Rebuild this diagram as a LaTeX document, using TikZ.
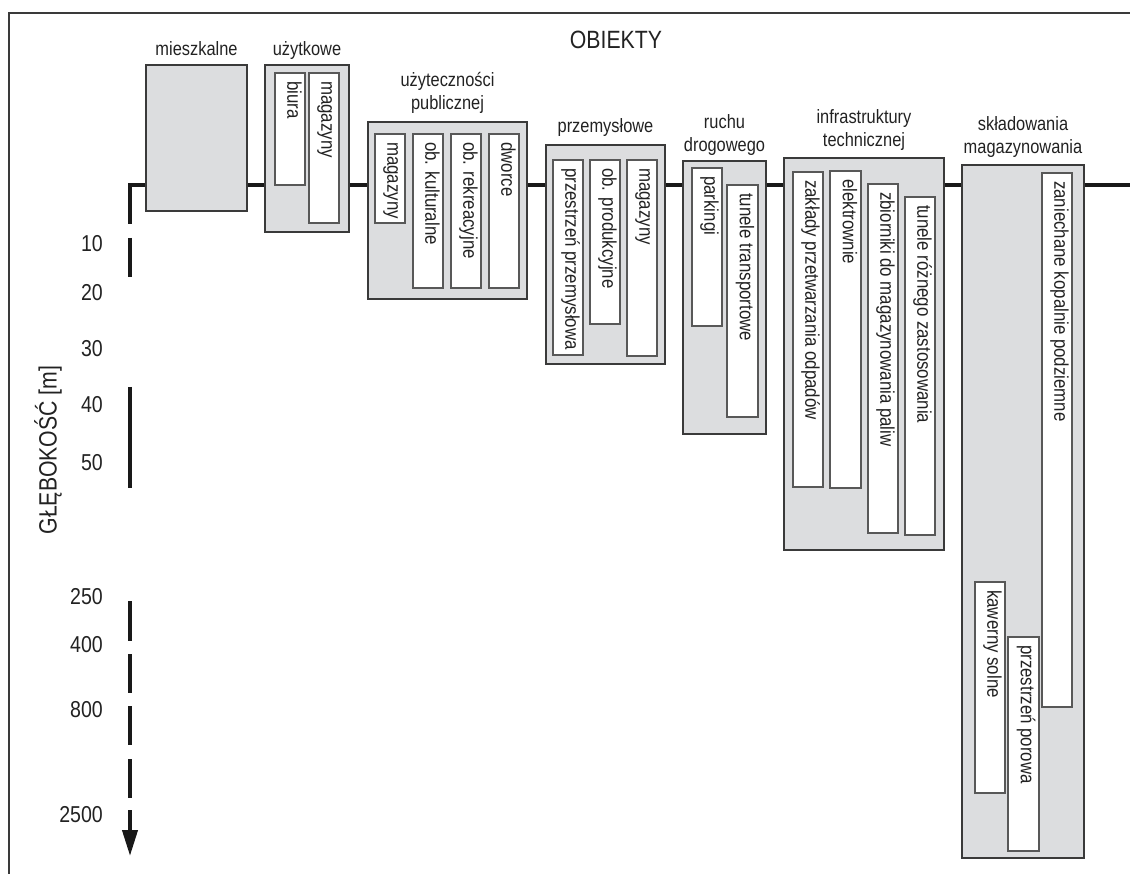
\documentclass[tikz,border=0pt]{standalone}
\usepackage{fontspec}
\setmainfont{Liberation Sans}[FakeStretch=0.85]
\usetikzlibrary{positioning,arrows.meta}

\definecolor{boxgray}{HTML}{DCDDDF}
\definecolor{edgegray}{HTML}{3A3A3A}
\definecolor{inkgray}{HTML}{222222}

\tikzset{
  grp/.style={draw=edgegray, line width=1.3pt, fill=boxgray, anchor=north west,
    inner sep=0pt, outer sep=0pt},
  sub/.style={draw=edgegray!85, line width=1.1pt, fill=white, anchor=north west,
    inner sep=0pt, outer sep=0pt},
  grplabel/.style={font=\fontsize{19.3}{23}\selectfont, text=inkgray, align=center,
    inner sep=0pt, text depth=0pt},
  sublabel/.style={font=\fontsize{19.8}{23}\selectfont, text=inkgray, rotate=-90,
    anchor=mid west, inner sep=0pt},
  depthlabel/.style={font=\fontsize{23}{25}\selectfont, text=inkgray, anchor=east,
    inner sep=0pt},
  biglabel/.style={font=\fontsize{25}{28}\selectfont, text=inkgray, inner sep=0pt},
  ground/.style={line width=4pt, draw=black!90, line cap=butt},
  frame/.style={line width=1.3pt, draw=edgegray},
}

% inner box: name, x, y, width, height, text
\newcommand{\subbox}[6]{%
  \node[sub, minimum width=#4pt, minimum height=#5pt] (#1) at (#2,#3) {};
  \node[sublabel] (#1-t) at ([yshift=-8pt]#1.north) {#6};}

\begin{document}
\begin{tikzpicture}[x=1pt, y=-1pt]
  \useasboundingbox (0,0) rectangle (1130,874);
  \draw[frame] (9,874) |- (1130,13);

  % ground level and depth axis
  \coordinate (corner) at (130,185);
  \coordinate (gend) at (1130,185);
  \draw[ground] (130,224) -- (corner) -- (gend);
  \foreach \a/\b in {238/277, 387/488, 601/641, 654/693, 706/745, 759/798}
    \draw[ground] (130,\a) -- (130,\b);
  \draw[ground, -{Triangle[length=26pt, width=15pt]}] (130,810) -- (130,856);

  \foreach \d/\y in {10/244, 20/293, 30/349, 40/405, 50/463, 250/597, 400/645, 800/710, 2500/815}
    \node[depthlabel] (d\d) at (103,\y) {\d};

  \node[biglabel] (title) at (616,40) {OBIEKTY};
  \node[biglabel, rotate=90] (depth) at (48,450) {GŁĘBOKOŚĆ [m]};

  % groups
  \node[grp, minimum width=101pt, minimum height=146pt] (mieszk) at (146,65) {};
  \node[grplabel, above=9pt of mieszk] (mieszk-t) {mieszkalne};

  \node[grp, minimum width=84pt, minimum height=167pt] (uzytk) at (265,65) {};
  \node[grplabel, above=9pt of uzytk] (uzytk-t) {użytkowe};
  \subbox{biura}{275}{73}{30}{112}{biura}
  \subbox{uzmag}{309}{73}{30}{150}{magazyny}

  \node[grp, minimum width=159pt, minimum height=177pt] (publ) at (368,122) {};
  \node[grplabel, above=12pt of publ] (publ-t) {użyteczności\\publicznej};
  \subbox{pumag}{375}{134}{30}{89}{magazyny}
  \subbox{kult}{413}{134}{30}{154}{ob. kulturalne}
  \subbox{rekr}{451}{134}{30}{154}{ob. rekreacyjne}
  \subbox{dworce}{489}{134}{30}{154}{dworce}

  \node[grp, minimum width=119pt, minimum height=219pt] (przem) at (546,145) {};
  \node[grplabel, above=12pt of przem] (przem-t) {przemysłowe};
  \subbox{przestrz}{553}{160}{30}{195}{przestrzeń przemysłowa}
  \subbox{prod}{590}{160}{30}{164}{ob. produkcyjne}
  \subbox{prmag}{627}{160}{30}{196}{magazyny}

  \node[grp, minimum width=83pt, minimum height=273pt] (ruch) at (683,161) {};
  \node[grplabel, above=9pt of ruch] (ruch-t) {ruchu\\drogowego};
  \subbox{park}{692}{168}{30}{158}{parkingi}
  \subbox{tuntr}{727}{185}{31}{232}{tunele transportowe}

  \node[grp, minimum width=160pt, minimum height=392pt] (infra) at (784,158) {};
  \node[grplabel, above=11pt of infra] (infra-t) {infrastruktury\\technicznej};
  \subbox{odpady}{793}{172}{30}{315}{zakłady przetwarzania odpadów}
  \subbox{elektr}{830}{171}{31}{317}{elektrownie}
  \subbox{paliwa}{868}{184}{30}{349}{zbiorniki do magazynowania paliw}
  \subbox{tunrz}{905}{197}{30}{338}{tunele różnego zastosowania}

  \node[grp, minimum width=122pt, minimum height=693pt] (sklad) at (962,165) {};
  \node[grplabel, above=11pt of sklad] (sklad-t) {składowania\\magazynowania};
  \subbox{kopal}{1042}{173}{30}{534}{zaniechane kopalnie podziemne}
  \subbox{kawer}{975}{582}{30}{211}{kawerny solne}
  \subbox{poro}{1008}{637}{31}{214}{przestrzeń porowa}
\end{tikzpicture}
\end{document}
